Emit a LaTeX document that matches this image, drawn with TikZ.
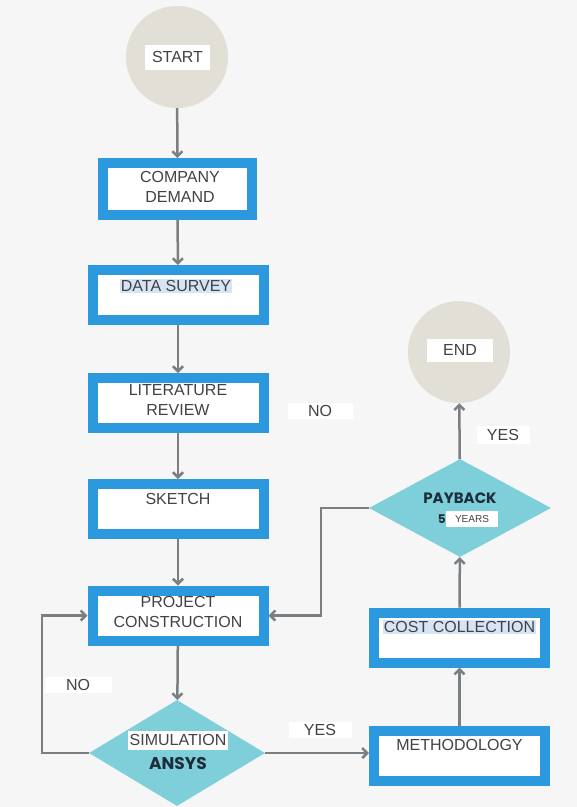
\documentclass[tikz,border=0pt]{standalone}
\usepackage{fontspec}
\setmainfont{Liberation Sans}
\newfontfamily\heavyface{Poppins}
\usetikzlibrary{shapes.geometric,arrows.meta,calc}
\definecolor{boxblue}{RGB}{44,152,222}
\definecolor{aqua}{RGB}{126,207,218}
\definecolor{stone}{RGB}{226,223,214}
\definecolor{arrowgray}{RGB}{122,127,132}
\definecolor{ink}{RGB}{66,66,66}
\definecolor{navy}{RGB}{28,45,60}
\definecolor{hilite}{RGB}{214,228,246}
\definecolor{paper}{RGB}{246,246,246}
\newcommand{\bigtext}{\fontsize{16}{20.5}\selectfont}
\newcommand{\heavytext}[1]{\heavyface\bfseries\fontsize{#1}{#1}\selectfont}

\begin{document}
\begin{tikzpicture}[x=1pt,y=-1pt,
    every node/.style={font=\bigtext,text=ink},
    proc/.style={draw=boxblue,line width=10pt,fill=white,minimum width=171pt,minimum height=50pt,inner sep=0pt},
    term/.style={circle,fill=stone,minimum size=102pt,inner sep=0pt},
    test/.style={diamond,fill=aqua,inner sep=0pt},
    tag/.style={fill=white,inner sep=2pt,minimum height=19pt},
    flow/.style={draw=arrowgray,line width=2.5pt,-{Straight Barb[length=5pt,width=10pt]}}]
    \fill[paper] (0,0) rectangle (577,807);
    \useasboundingbox (0,0) rectangle (577,807);

    % left column
    \node[term] (start) at (177,57) {};
    \node[tag,minimum width=65pt,minimum height=25pt] (start-t) at (177.5,57) {START};
    \node[proc,minimum width=149pt,minimum height=52pt] (demand) at (177.5,189) {};
    \node[align=center] (demand-t) at (180,187) {COMPANY\\DEMAND};
    \node[proc] (survey) at (178,295) {};
    \node[fill=hilite,inner sep=1pt] (survey-t) at (176,286) {DATA SURVEY};
    \node[proc] (review) at (178,403) {};
    \node[align=center] (review-t) at (178,400) {LITERATURE\\REVIEW};
    \node[proc] (sketch) at (178,509) {};
    \node (sketch-t) at (178,499) {SKETCH};
    \node[proc] (build) at (178,615.5) {};
    \node[align=center] (build-t) at (178,612) {PROJECT\\CONSTRUCTION};
    \node[test,minimum width=176pt,minimum height=106pt] (sim) at (177,753) {};
    \node[tag,minimum width=100pt] (sim-t) at (178,740) {SIMULATION};
    \node[text=navy,font=\heavytext{17}] (ansys) at (178,763) {ANSYS};

    % right column
    \node[proc] (method) at (459.5,755.5) {};
    \node (method-t) at (459.5,745) {METHODOLOGY};
    \node[proc] (cost) at (459.5,637.5) {};
    \node[fill=hilite,inner sep=1pt] (cost-t) at (459.5,627) {COST COLLECTION};
    \node[test,minimum width=182pt,minimum height=98pt] (pay) at (460,508) {};
    \node[text=navy,font=\heavytext{15}] (pay-t) at (460,498) {PAYBACK};
    \node[tag,minimum width=52pt,minimum height=16pt,inner sep=1pt,font=\fontsize{10}{12}\selectfont] (years) at (472,519) {YEARS};
    \node[text=navy,font=\heavytext{12},inner sep=0pt,anchor=east] (five) at (years.west) {5};
    \node[term] (end) at (459,352) {};
    \node[tag,minimum width=66pt,minimum height=23pt] (end-t) at (460,350) {END};

    % branch labels
    \node[tag,minimum width=65pt,minimum height=16pt] (no-up) at (320,411) {NO};
    \node[tag,minimum width=53pt,minimum height=18pt] (yes-up) at (503,435) {YES};
    \node[tag,minimum width=67pt,minimum height=16pt] (no-low) at (78,685) {NO};
    \node[tag,minimum width=63pt,minimum height=16pt] (yes-low) at (320,730) {YES};

    \draw[flow] (start) -- (demand);
    \draw[flow] (demand) -- (survey);
    \draw[flow] (survey) -- (review);
    \draw[flow] (review) -- (sketch);
    \draw[flow] (sketch) -- (build);
    \draw[flow] (build) -- (sim);
    \draw[flow] (sim.west) -- ++(-47,0) |- (build.west);
    \draw[flow] (sim.east) -- (sim.east -| method.west);
    \draw[flow] (method) -- (cost);
    \draw[flow] (cost) -- (pay);
    \draw[flow] (pay) -- (end);
    \draw[flow] (pay.west) -- ++(-48,0) |- (build.east);
\end{tikzpicture}
\end{document}
